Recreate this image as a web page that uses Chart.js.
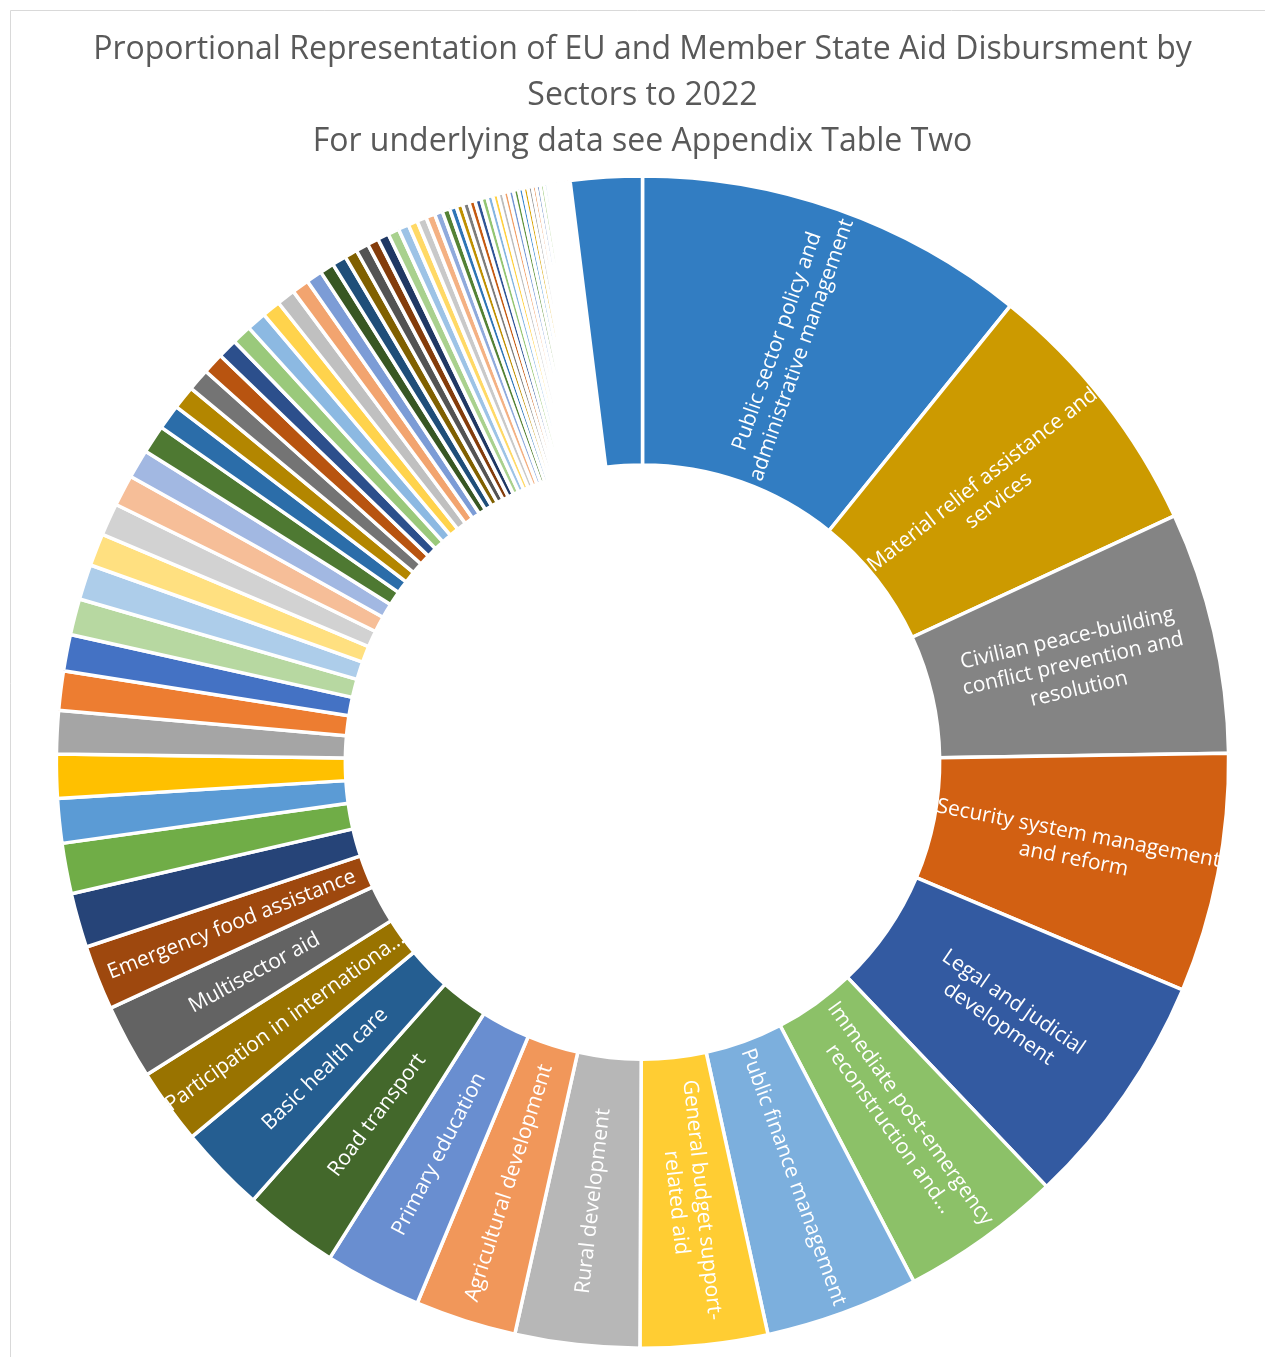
<!DOCTYPE html>
<html>
<head>
<meta charset="utf-8">
<title>EU aid by sector</title>
<script src="https://cdn.jsdelivr.net/npm/chart.js@4.4.1/dist/chart.umd.min.js"></script>
<style>
  html, body { margin: 0; padding: 0; background: #fff; }
  #wrap { width: 1265px; height: 1357px; position: relative; }
</style>
</head>
<body>
<div id="wrap"><canvas id="grafico"></canvas></div>
<script>
// Sectors named on the chart, clockwise from 12 o'clock (the rest carry no label)
const sectors = [
  "Public sector policy and administrative management",
  "Material relief assistance and services",
  "Civilian peace-building conflict prevention and resolution",
  "Security system management and reform",
  "Legal and judicial development",
  "Immediate post-emergency reconstruction and rehabilitation",
  "Public finance management",
  "General budget support-related aid",
  "Rural development",
  "Agricultural development",
  "Primary education",
  "Road transport",
  "Basic health care",
  "Participation in international peacekeeping operations",
  "Multisector aid",
  "Emergency food assistance"
];

// Share of total disbursement (%)
const shares = [
  10.78, 7.29, 6.65, 6.58, 6.53, 4.44, 4.22, 3.50, 3.42, 2.78,
  2.67, 2.61, 2.39, 2.08, 2.06, 1.78, 1.50, 1.39, 1.22, 1.21,
  1.19, 1.08, 1.00, 0.99, 0.97, 0.89, 0.89, 0.86, 0.79, 0.78,
  0.69, 0.64, 0.61, 0.58, 0.54, 0.54, 0.54, 0.51, 0.51, 0.47,
  0.44, 0.39, 0.39, 0.35, 0.35, 0.31, 0.31, 0.31, 0.29, 0.26,
  0.26, 0.25, 0.22, 0.21, 0.19, 0.18, 0.18, 0.17, 0.17, 0.17,
  0.16, 0.15, 0.15, 0.14, 0.14, 0.14, 0.13, 0.13, 0.12, 0.11,
  0.11, 0.11, 0.10, 0.09, 0.08, 0.08, 0.07, 0.07, 0.06, 0.05,
  0.04, 0.03, 0.02, 0.01, 0.01, 1.97
];

// Text Excel shows inside the labelled slices (wrapped / cut as in the picture)
const sliceLabels = [
  ["Public sector policy and", "administrative management"],
  ["Material relief assistance and", "services"],
  ["Civilian peace-building", "conflict prevention and", "resolution"],
  ["Security system management", "and reform"],
  ["Legal and judicial", "development"],
  ["Immediate post-emergency", "reconstruction and..."],
  ["Public finance management"],
  ["General budget support-", "related aid"],
  ["Rural development"],
  ["Agricultural development"],
  ["Primary education"],
  ["Road transport"],
  ["Basic health care"],
  ["Participation in internationa..."],
  ["Multisector aid"],
  ["Emergency food assistance"]
];

const titleLines = [
  "Proportional Representation of EU and Member State Aid Disbursment by",
  "Sectors to 2022",
  "For underlying data see Appendix Table Two"
];

// Office palette, in the order the colours run round the ring
const basePalette = ["#70AD47", "#5B9BD5", "#FFC000", "#A5A5A5", "#ED7D31", "#4472C4"];
// [lumMod, lumOff] for each block of six slices
const shadeSteps = [
  [0.8, 0], [0.8, 0.2], [0.6, 0], [1, 0], [0.5, 0.5], [0.7, 0], [0.7, 0.3],
  [0.5, 0], [0.6, 0.4], [0.75, 0], [0.75, 0.25], [0.85, 0], [0.85, 0.15], [0.9, 0], [0.9, 0.1]
];

function hexParaHsl(hex) {
  const r = parseInt(hex.slice(1, 3), 16) / 255;
  const g = parseInt(hex.slice(3, 5), 16) / 255;
  const b = parseInt(hex.slice(5, 7), 16) / 255;
  const max = Math.max(r, g, b), min = Math.min(r, g, b);
  const l = (max + min) / 2;
  let h = 0, s = 0;
  if (max !== min) {
    const d = max - min;
    s = l > 0.5 ? d / (2 - max - min) : d / (max + min);
    if (max === r) h = (g - b) / d + (g < b ? 6 : 0);
    else if (max === g) h = (b - r) / d + 2;
    else h = (r - g) / d + 4;
    h /= 6;
  }
  return [h, s, l];
}

function hslParaHex(h, s, l) {
  const f = t => {
    const q = l < 0.5 ? l * (1 + s) : l + s - l * s;
    const p = 2 * l - q;
    if (t < 0) t += 1;
    if (t > 1) t -= 1;
    if (t < 1 / 6) return p + (q - p) * 6 * t;
    if (t < 1 / 2) return q;
    if (t < 2 / 3) return p + (q - p) * (2 / 3 - t) * 6;
    return p;
  };
  const hx = v => Math.round(v * 255).toString(16).padStart(2, "0");
  return "#" + hx(f(h + 1 / 3)) + hx(f(h)) + hx(f(h - 1 / 3));
}

function corFatia(i) {
  // the last wedge (left of 12 o'clock) has the same blue as the first one
  if (i === shares.length - 1) return corFatia(0);
  const n = i + 1;
  const [mod, off] = shadeSteps[Math.floor(n / 6)] || [1, 0];
  const [h, s, l] = hexParaHsl(basePalette[n % 6]);
  return hslParaHex(h, s, Math.min(1, l * mod + off));
}

// white background + the thin chart-area frame seen at top and left
const moldura = {
  id: "moldura",
  beforeDraw(chart) {
    const ctx = chart.ctx;
    ctx.save();
    ctx.fillStyle = "#fff";
    ctx.fillRect(0, 0, chart.width, chart.height);
    ctx.strokeStyle = "#D9D9D9";
    ctx.lineWidth = 1;
    ctx.beginPath();
    ctx.moveTo(10.5, chart.height);
    ctx.lineTo(10.5, 10.5);
    ctx.lineTo(chart.width, 10.5);
    ctx.stroke();
    ctx.restore();
  }
};

// rotated labels inside the big slices
const rotuloFatias = {
  id: "rotuloFatias",
  afterDatasetsDraw(chart) {
    const ctx = chart.ctx;
    const arcs = chart.getDatasetMeta(0).data;
    const alturaLinha = 26;
    ctx.save();
    ctx.fillStyle = "#fff";
    ctx.font = '21px "Open Sans"';
    ctx.textAlign = "center";
    ctx.textBaseline = "middle";
    sliceLabels.forEach((linhas, i) => {
      const arc = arcs[i];
      if (!arc) return;
      const p = arc.getProps(["x", "y", "startAngle", "endAngle", "innerRadius", "outerRadius"], true);
      const meio = (p.startAngle + p.endAngle) / 2;
      const r = (p.innerRadius + p.outerRadius) / 2;
      const px = p.x + r * Math.cos(meio);
      const py = p.y + r * Math.sin(meio);
      let relogio = (meio + Math.PI / 2) % (2 * Math.PI);
      if (relogio < 0) relogio += 2 * Math.PI;
      const rot = relogio < Math.PI ? meio : meio - Math.PI;
      ctx.save();
      ctx.translate(px, py);
      ctx.rotate(rot);
      linhas.forEach((t, k) => {
        ctx.fillText(t, 0, (k - (linhas.length - 1) / 2) * alturaLinha);
      });
      ctx.restore();
    });
    ctx.restore();
  }
};

const ctx = document.getElementById("grafico").getContext("2d");
new Chart(ctx, {
  type: "doughnut",
  data: {
    labels: shares.map((v, i) => sectors[i] || ""),
    datasets: [{
      data: shares,
      backgroundColor: shares.map((v, i) => corFatia(i)),
      borderColor: "#ffffff",
      borderWidth: 3.5,
      hoverOffset: 0,
      offset: 0
    }]
  },
  options: {
    responsive: true,
    maintainAspectRatio: false,
    animation: false,
    events: [],
    cutout: "50.7%",
    layout: { padding: { top: 0, bottom: 7, left: 20, right: 0 } },
    plugins: {
      legend: { display: false },
      tooltip: { enabled: false },
      title: {
        display: true,
        text: titleLines,
        color: "#595959",
        font: { family: "Open Sans", size: 32, weight: "normal", lineHeight: 1.44 },
        padding: { top: 27, bottom: 9 }
      }
    }
  },
  plugins: [moldura, rotuloFatias]
});
</script>
</body>
</html>
